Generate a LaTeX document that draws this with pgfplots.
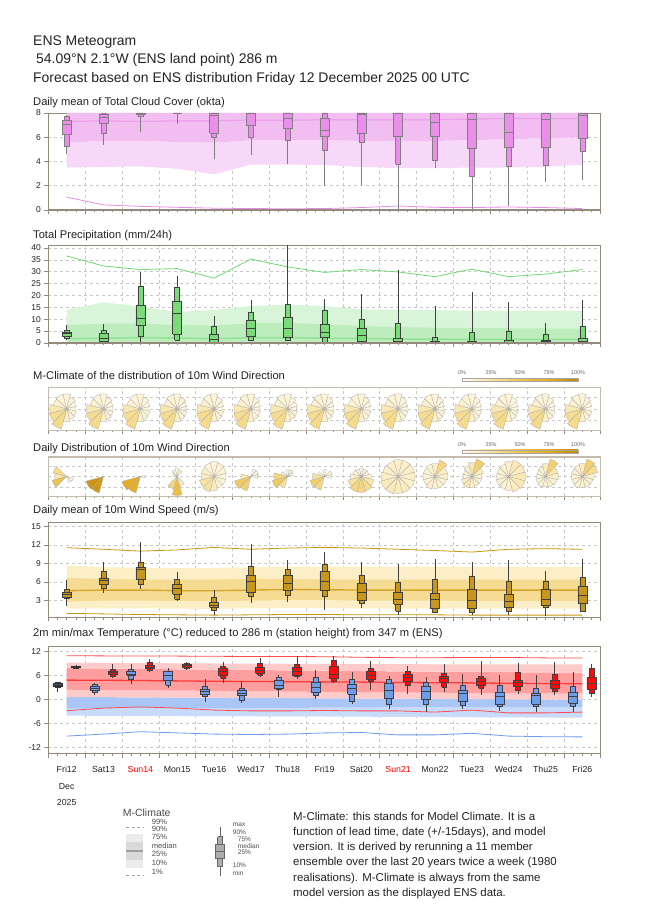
\documentclass[border=0pt]{standalone}
\usepackage{fontspec}
\setmainfont{Liberation Sans}
\usepackage{pgfplots}
\pgfplotsset{compat=1.18}
\usepackage{pgfplotstable}

\definecolor{axc}{HTML}{938A7C}
\definecolor{rosec}{HTML}{C4BCAE}
\definecolor{grd}{HTML}{C8C8C8}
\definecolor{txt}{HTML}{222222}
% cloud
\definecolor{cbox}{HTML}{E98EE9}
\definecolor{cc1}{HTML}{F8D8F8}
\definecolor{cc2}{HTML}{F2BEF2}
\definecolor{cmed}{HTML}{EBA2EB}
\definecolor{cline}{HTML}{E88CE8}
% precipitation
\definecolor{pbox}{HTML}{79DC79}
\definecolor{pc1}{HTML}{D9F5D9}
\definecolor{pc2}{HTML}{BDEDBD}
\definecolor{pmed}{HTML}{8FE28F}
\definecolor{pline}{HTML}{6FD86F}
% wind
\definecolor{wbox}{HTML}{C8961C}
\definecolor{wc1}{HTML}{FCEFC8}
\definecolor{wc2}{HTML}{F6DB92}
\definecolor{wmed}{HTML}{D6A62C}
\definecolor{wline}{HTML}{C8960E}
% temperature
\definecolor{tred}{HTML}{FF0A0A}
\definecolor{tblue}{HTML}{6D9EEB}
\definecolor{tredd}{HTML}{4B2E2E}
\definecolor{tblued}{HTML}{3B5784}
\definecolor{rc1}{HTML}{FFCACA}
\definecolor{rc2}{HTML}{FF9E9E}
\definecolor{rmed}{HTML}{FF3C3C}
\definecolor{rline}{HTML}{FF4C4C}
\definecolor{bc1}{HTML}{C9DBFA}
\definecolor{bc2}{HTML}{A9C6F6}
\definecolor{bline}{HTML}{6A9BEE}

\pgfdeclareplotmark{sector}{%
  \pgfmathsetmacro\wa{\wang-15}%
  \pgfmathsetmacro\wb{\wang+15}%
  \pgfpathmoveto{\pgfpointorigin}%
  \pgfpathlineto{\pgfpointpolar{\wa}{\wrad bp}}%
  \pgfpatharc{\wa}{\wb}{\wrad bp}%
  \pgfpathclose
  \pgfusepathqfillstroke}

\pgfplotsset{
  colormap={wr}{rgb255=(255,251,238) rgb255=(248,226,160) rgb255=(238,196,80) rgb255=(226,170,32) rgb255=(188,136,14)},
  /pgf/number format/assume math mode=true,
  mg/.style={
    anchor=south west, scale only axis, width=552.4bp,
    xmin=0, xmax=15, xtick={0,...,15}, minor x tick num=3, xticklabels={},
    tick align=outside, xtick pos=lower, ytick pos=left,
    major tick length=4bp, minor tick length=2.5bp,
    tick style={axc, line width=0.5bp},
    axis line style={axc, line width=0.7bp},
    xmajorgrids, ymajorgrids,
    grid style={grd, dash pattern=on 3bp off 3bp, line width=0.5bp},
    tick label style={font=\fontsize{8.5}{10}\selectfont, text=txt},
  },
  thickbottom/.style={after end axis/.append code={\draw[axc, line width=1.5bp] (rel axis cs:0,0) -- (rel axis cs:1,0);}},
  rosepanel/.style={mg, ymin=-1, ymax=1, ytick={-0.55,0,0.55}, yticklabels={},
    ytick style={draw=none}, axis line style={rosec, line width=0.7bp}, clip=false,
    colormap name=wr, point meta min=0, point meta max=100},
  rose/.style={scatter, only marks, mark=sector, point meta=\thisrow{f},
    visualization depends on={\thisrow{a}\as\wang},
    visualization depends on={\thisrow{r}\as\wrad},
    scatter/use mapped color={draw=black!32, fill=mapped color},
    mark options={line width=0.3bp}},
  cbar/.style={anchor=south west, scale only axis, width=116bp, height=3.4bp, hide axis,
    xmin=0, xmax=1, ymin=0, ymax=1, colormap name=wr, point meta min=0, point meta max=100,
    colorbar horizontal,
    colorbar style={at={(0,0)}, anchor=south west, width=116bp, height=3.4bp,
      xtick={0,25,50,75,100}, xticklabel pos=upper,
      xticklabel={\pgfmathprintnumber{\tick}\%},
      xticklabel style={font=\fontsize{5.5}{6}\selectfont, text=black!60},
      major tick length=0pt, axis line style={black!35, line width=0.4bp}}},
  cb/.style={fill=cbox, draw=black!50, line width=0.55bp},
  pb/.style={fill=pbox, draw=black!75, line width=0.55bp},
  wb/.style={fill=wbox, draw=black!75, line width=0.55bp},
  tb/.style={fill=tblue, draw=black!75, line width=0.55bp},
  tr/.style={fill=tred, draw=black!75, line width=0.55bp},
  tbd/.style={fill=tblued, draw=black!80, line width=0.55bp},
  trd/.style={fill=tredd, draw=black!80, line width=0.55bp},
}

% box and whiskers: x, min, p10, p25, median, p75, p90, max, style
\newcommand\bx[9]{%
  \pgfmathsetmacro\bxa{#1-0.0675}\pgfmathsetmacro\bxb{#1+0.0675}%
  \pgfmathsetmacro\bxc{#1-0.1225}\pgfmathsetmacro\bxd{#1+0.1225}%
  \addplot[#9, fill=none] coordinates {(#1,#2) (#1,#8)};
  \addplot[#9] coordinates {(\bxa,#3) (\bxb,#3) (\bxb,#7) (\bxa,#7) (\bxa,#3)};
  \addplot[#9] coordinates {(\bxc,#4) (\bxd,#4) (\bxd,#6) (\bxc,#6) (\bxc,#4)};
  \addplot[#9, fill=none] coordinates {(\bxc,#5) (\bxd,#5)};
}

\pgfplotstableread{
x p1 p50
0.5 1.06 7.30
1.5 0.42 7.35
2.5 0.30 7.30
3.5 0.22 7.35
4.5 0.15 7.35
5.5 0.12 7.40
6.5 0.10 7.40
7.5 0.12 7.45
8.5 0.20 7.45
9.5 0.33 7.45
10.5 0.22 7.45
11.5 0.20 7.50
12.5 0.25 7.55
13.5 0.20 7.55
14.5 0.12 7.55
}\cloudclim

\pgfplotstableread{
x p50 p99
0.5 1.8 36.6
1.5 2.0 32.4
2.5 2.3 30.9
3.5 2.1 31.3
4.5 1.8 27.3
5.5 2.2 35.3
6.5 2.3 32.0
7.5 2.0 29.7
8.5 1.9 30.9
9.5 1.7 29.9
10.5 1.6 27.9
11.5 1.5 31.1
12.5 1.5 27.9
13.5 1.5 29.0
14.5 1.5 30.9
}\precclim

\pgfplotstableread{
x p1 p50 p99
0.5 0.93 4.60 11.56
1.5 0.85 4.70 11.30
2.5 0.75 4.70 11.00
3.5 0.70 4.60 11.20
4.5 0.65 4.60 11.60
5.5 0.70 4.70 11.30
6.5 0.75 4.80 11.50
7.5 0.75 4.75 11.60
8.5 0.70 4.70 11.50
9.5 0.70 4.70 11.30
10.5 0.70 4.70 11.10
11.5 0.65 4.70 10.85
12.5 0.65 4.70 11.30
13.5 0.65 4.70 11.40
14.5 0.65 4.70 11.30
}\windclim

\pgfplotstableread{
x bp1 rp1 rp50 rp99
0.5 -9.10 -2.75 4.90 11.00
1.5 -8.60 -2.10 4.85 10.95
2.5 -8.00 -1.80 4.80 10.90
3.5 -8.30 -2.10 4.70 10.90
4.5 -8.60 -2.60 4.60 10.85
5.5 -8.70 -2.80 4.55 10.80
6.5 -8.60 -2.80 4.50 10.80
7.5 -8.30 -2.70 4.45 10.75
8.5 -8.20 -2.80 4.40 10.60
9.5 -8.80 -2.80 4.30 10.50
10.5 -8.80 -3.10 4.25 10.50
11.5 -8.40 -2.60 4.20 10.55
12.5 -9.10 -3.30 4.10 10.55
13.5 -9.25 -3.30 4.05 10.45
14.5 -9.30 -3.10 4.00 10.40
}\tempclim

% M-Climate wind rose (math angle of sector centre, radius in bp, frequency in %)
\pgfplotstableread{
a r f
90 15 7
60 12 6
30 10 5
0 9 5
-30 10 6
-60 11 8
-90 13 12
-120 21 32
-150 18 30
180 17 20
150 14 10
120 15 8
}\climrose

\pgfplotstableread{
x a r f
0.5 150 14 30
0.5 180 12 22
0.5 -150 15 50
0.5 -30 7 8
0.5 -60 6 6
1.5 -150 18 90
1.5 -120 17 88
2.5 -150 19 72
2.5 -120 17 70
2.5 0 5 5
3.5 -90 19 55
3.5 -120 13 35
3.5 -60 10 15
3.5 90 8 5
3.5 60 7 5
3.5 120 7 5
3.5 150 5 5
4.5 90 15 8
4.5 60 14 8
4.5 30 13 8
4.5 0 12 8
4.5 -30 12 8
4.5 -60 12 10
4.5 -90 14 15
4.5 -120 16 25
4.5 -150 15 25
4.5 180 13 15
4.5 150 13 10
4.5 120 14 8
5.5 -150 17 45
5.5 -120 15 40
5.5 180 10 20
5.5 60 8 5
5.5 30 8 5
5.5 0 7 5
6.5 -150 16 45
6.5 180 14 35
6.5 -120 12 25
6.5 150 7 8
6.5 90 7 5
6.5 60 7 5
6.5 30 6 5
7.5 -150 15 42
7.5 -120 14 35
7.5 180 12 25
7.5 150 7 8
7.5 90 7 6
7.5 30 8 8
7.5 0 7 6
8.5 90 8 5
8.5 60 8 5
8.5 30 8 5
8.5 120 8 5
8.5 150 9 5
8.5 0 10 10
8.5 -30 13 20
8.5 -60 15 30
8.5 -90 16 35
8.5 -120 16 35
8.5 -150 14 25
8.5 180 11 12
9.5 90 17 12
9.5 60 17 12
9.5 30 17 12
9.5 0 17 12
9.5 -30 17 12
9.5 -60 17 14
9.5 -90 17 15
9.5 -120 18 18
9.5 -150 18 16
9.5 180 17 14
9.5 150 16 12
9.5 120 16 12
10.5 60 17 35
10.5 30 13 12
10.5 90 13 12
10.5 0 13 12
10.5 -30 12 10
10.5 -60 12 10
10.5 -90 12 10
10.5 -120 13 12
10.5 -150 12 10
10.5 180 12 8
10.5 150 12 8
10.5 120 13 10
11.5 60 18 40
11.5 90 14 20
11.5 30 12 15
11.5 0 10 8
11.5 -30 10 8
11.5 -60 10 8
11.5 -90 11 12
11.5 -120 12 18
11.5 -150 11 15
11.5 180 9 8
11.5 150 9 8
11.5 120 11 10
12.5 90 15 12
12.5 60 17 18
12.5 30 17 15
12.5 0 17 18
12.5 -30 17 18
12.5 -60 16 15
12.5 -90 14 12
12.5 -120 13 10
12.5 -150 13 10
12.5 180 12 10
12.5 150 12 10
12.5 120 13 10
13.5 60 18 40
13.5 30 13 20
13.5 90 13 15
13.5 0 13 12
13.5 -30 12 10
13.5 -60 11 10
13.5 -90 10 8
13.5 -120 11 10
13.5 -150 10 8
13.5 180 9 8
13.5 150 9 8
13.5 120 10 8
14.5 60 18 40
14.5 30 16 30
14.5 90 13 15
14.5 0 12 10
14.5 -30 11 10
14.5 -60 11 10
14.5 -90 11 10
14.5 -120 12 10
14.5 -150 11 10
14.5 180 11 10
14.5 150 11 10
14.5 120 12 10
}\dayrose

\begin{document}
\begin{tikzpicture}
\path[use as bounding box] (0,0) rectangle (650bp,916bp);

% header and panel titles
\node[anchor=base west, inner sep=0, text=txt, font=\fontsize{14}{16}\selectfont] at (33bp,870.3bp) {ENS Meteogram};
\node[anchor=base west, inner sep=0, text=txt, font=\fontsize{14}{16}\selectfont] at (36bp,852bp) {54.09°N 2.1°W (ENS land point) 286 m};
\node[anchor=base west, inner sep=0, text=txt, font=\fontsize{14}{16}\selectfont] at (33bp,833.7bp) {Forecast based on ENS distribution Friday 12 December 2025 00 UTC};
\tikzset{ptitle/.style={anchor=base west, inner sep=0, text=txt, font=\fontsize{11.2}{13}\selectfont}}
\node[ptitle] at (33bp,810.3bp) {Daily mean of Total Cloud Cover (okta)};
\node[ptitle] at (33bp,677bp) {Total Precipitation (mm/24h)};
\node[ptitle] at (33bp,536bp) {M-Climate of the distribution of 10m Wind Direction};
\node[ptitle] at (33bp,464bp) {Daily Distribution of 10m Wind Direction};
\node[ptitle] at (33bp,402bp) {Daily mean of 10m Wind Speed (m/s)};
\node[ptitle] at (33bp,279.5bp) {2m min/max Temperature (°C) reduced to 286 m (station height) from 347 m (ENS)};

% ---------------- cloud cover
\begin{axis}[mg, thickbottom, at={(48.3bp,706bp)}, height=97bp, ymin=0, ymax=8, ytick={0,2,4,6,8}]
\addplot[fill=cc1, draw=none] coordinates {(0.5,5.55) (1.5,5.70) (2.5,5.70) (3.5,5.60) (4.5,5.55) (5.5,5.75) (6.5,5.75) (7.5,5.75) (8.5,5.70) (9.5,5.65) (10.5,5.70) (11.5,5.75) (12.5,5.85) (13.5,5.90) (14.5,6.00) (14.5,3.75) (13.5,3.55) (12.5,3.50) (11.5,3.50) (10.5,3.45) (9.5,3.45) (8.5,3.55) (7.5,3.70) (6.5,3.75) (5.5,3.75) (4.5,2.95) (3.5,3.40) (2.5,3.60) (1.5,3.55) (0.5,3.50)};
\addplot[fill=cc2, draw=none] coordinates {(0.5,8) (14.5,8) (14.5,6.00) (13.5,5.90) (12.5,5.85) (11.5,5.75) (10.5,5.70) (9.5,5.65) (8.5,5.70) (7.5,5.75) (6.5,5.75) (5.5,5.75) (4.5,5.55) (3.5,5.60) (2.5,5.70) (1.5,5.70) (0.5,5.55)};
\addplot[cmed, line width=1.3bp] table[x=x, y=p50] {\cloudclim};
\addplot[cline, line width=0.8bp] table[x=x, y=p1] {\cloudclim};
\bx{0.5}{4.58}{5.22}{6.28}{7.08}{7.44}{7.72}{7.8}{cb}
\bx{1.5}{5.36}{6.33}{7.17}{7.64}{7.92}{7.96}{8}{cb}
\bx{2.5}{6.4}{7.7}{7.9}{7.98}{8}{8}{8}{cb}
\bx{3.5}{7.1}{7.95}{8}{8}{8}{8}{8}{cb}
\bx{4.5}{4.17}{5.97}{6.33}{7.8}{8}{8}{8}{cb}
\bx{5.5}{4.5}{5.97}{7.0}{7.95}{8}{8}{8}{cb}
\bx{6.5}{3.83}{5.78}{6.72}{7.6}{8}{8}{8}{cb}
\bx{7.5}{2.0}{4.94}{6.06}{6.6}{7.56}{8}{8}{cb}
\bx{8.5}{2.08}{5.56}{6.36}{7.9}{8}{8}{8}{cb}
\bx{9.5}{0}{3.8}{6.06}{7.95}{8}{8}{8}{cb}
\bx{10.5}{3.47}{4.08}{6.06}{7.22}{8}{8}{8}{cb}
\bx{11.5}{0}{2.78}{5.06}{7.5}{8}{8}{8}{cb}
\bx{12.5}{0.33}{3.61}{5.14}{6.39}{8}{8}{8}{cb}
\bx{13.5}{2.33}{3.69}{5.14}{7.5}{8}{8}{8}{cb}
\bx{14.5}{2.5}{4.83}{5.92}{7.83}{8}{8}{8}{cb}
\end{axis}

% ---------------- precipitation
\begin{axis}[mg, thickbottom, at={(48.3bp,573bp)}, height=97.7bp, ymin=0, ymax=41.1, ytick={0,5,...,40}]
\addplot[fill=pc1, draw=none] coordinates {(0.5,13.9) (1.5,17.1) (2.5,15.3) (3.5,13.1) (4.5,13.9) (5.5,15.6) (6.5,16.1) (7.5,15.6) (8.5,14.1) (9.5,14.0) (10.5,13.8) (11.5,13.6) (12.5,13.6) (13.5,13.6) (14.5,13.6) (14.5,0) (0.5,0)};
\addplot[fill=pc2, draw=none] coordinates {(0.5,7.6) (1.5,8.1) (2.5,8.1) (3.5,7.6) (4.5,7.3) (5.5,8.3) (6.5,8.4) (7.5,7.9) (8.5,7.1) (9.5,6.7) (10.5,6.4) (11.5,6.3) (12.5,6.2) (13.5,6.1) (14.5,6.0) (14.5,0.3) (0.5,0.3)};
\addplot[pmed, line width=1.5bp] table[x=x, y=p50] {\precclim};
\addplot[pline, line width=0.8bp] table[x=x, y=p99] {\precclim};
\bx{0.5}{1.4}{2.1}{2.7}{3.9}{4.7}{5.3}{7.6}{pb}
\bx{1.5}{0}{0.4}{0.7}{1.9}{3.9}{5.3}{8.1}{pb}
\bx{2.5}{0.4}{2.9}{7.6}{10.3}{15.9}{24}{30}{pb}
\bx{3.5}{0.7}{1.3}{3.6}{12.4}{17.6}{23.6}{28.1}{pb}
\bx{4.5}{0}{0}{0}{1.4}{3.6}{6.9}{11.4}{pb}
\bx{5.5}{0.7}{1.3}{2.9}{6.1}{9.4}{13.1}{18}{pb}
\bx{6.5}{0.7}{1.1}{2.6}{6.4}{10.7}{16.3}{45}{pb}
\bx{7.5}{0}{0.4}{2.4}{4.7}{7.9}{13.7}{18.7}{pb}
\bx{8.5}{0}{0.3}{0.7}{3.3}{6.3}{9.9}{20.6}{pb}
\bx{9.5}{0}{0}{0}{0.7}{1.9}{8.1}{30.6}{pb}
\bx{10.5}{0}{0}{0}{0.3}{0.9}{2.6}{15.4}{pb}
\bx{11.5}{0}{0}{0}{0.3}{0.9}{4.6}{21.6}{pb}
\bx{12.5}{0}{0}{0}{0.2}{1.0}{4.9}{17.1}{pb}
\bx{13.5}{0}{0}{0}{0.7}{1.3}{3.6}{8.3}{pb}
\bx{14.5}{0}{0}{0}{0.7}{2.1}{6.9}{18.1}{pb}
\end{axis}

% ---------------- wind direction, M-Climate
\begin{axis}[rosepanel, at={(48.3bp,486bp)}, height=42.3bp]
\pgfplotsinvokeforeach{0,...,14}{
  \addplot[rose] table[x expr=#1+0.5, y expr=0] {\climrose};
}
\end{axis}
\begin{axis}[cbar, at={(462bp,534.3bp)}]
\addplot[draw=none] coordinates {(0,0)};
\end{axis}

% ---------------- wind direction, daily
\begin{axis}[rosepanel, at={(48.3bp,420bp)}, height=39bp,
  after end axis/.append code={\draw[rosec, line width=1.6bp] (rel axis cs:0,1) -- (rel axis cs:1,1);}]
\addplot[rose] table[x=x, y expr=0] {\dayrose};
\end{axis}
\begin{axis}[cbar, at={(462bp,462.6bp)}]
\addplot[draw=none] coordinates {(0,0)};
\end{axis}

% ---------------- wind speed
\begin{axis}[mg, thickbottom, at={(48.3bp,298.7bp)}, height=94.6bp, ymin=0.3, ymax=15.6, ytick={3,6,...,15}]
\addplot[fill=wc1, draw=none] coordinates {(0.5,8.67) (1.5,8.40) (2.5,8.30) (3.5,8.30) (4.5,8.30) (5.5,8.40) (6.5,8.50) (7.5,8.50) (8.5,8.50) (9.5,8.50) (10.5,8.50) (11.5,8.50) (12.5,8.50) (13.5,8.40) (14.5,8.40) (14.5,1.70) (13.5,1.70) (12.5,1.70) (11.5,1.70) (10.5,1.70) (9.5,1.70) (8.5,1.75) (7.5,1.75) (6.5,1.80) (5.5,1.75) (4.5,1.65) (3.5,1.70) (2.5,1.75) (1.5,1.75) (0.5,1.70)};
\addplot[fill=wc2, draw=none] coordinates {(0.5,6.65) (1.5,6.50) (2.5,6.40) (3.5,6.40) (4.5,6.40) (5.5,6.50) (6.5,6.50) (7.5,6.40) (8.5,6.40) (9.5,6.40) (10.5,6.40) (11.5,6.40) (12.5,6.40) (13.5,6.40) (14.5,6.40) (14.5,2.95) (13.5,2.95) (12.5,2.95) (11.5,2.95) (10.5,3.00) (9.5,3.00) (8.5,3.00) (7.5,3.10) (6.5,3.10) (5.5,3.00) (4.5,2.90) (3.5,2.95) (2.5,3.00) (1.5,3.00) (0.5,2.85)};
\addplot[wmed, line width=1.4bp] table[x=x, y=p50] {\windclim};
\addplot[wline, line width=0.8bp] table[x=x, y=p99] {\windclim};
\addplot[wline, line width=0.8bp] table[x=x, y=p1] {\windclim};
\bx{0.5}{2.1}{3.3}{3.6}{4.04}{4.4}{4.85}{6.4}{wb}
\bx{1.5}{4.2}{5.0}{5.56}{6.27}{6.65}{7.75}{9.27}{wb}
\bx{2.5}{4.85}{5.7}{6.5}{8.0}{8.4}{9.27}{12.5}{wb}
\bx{3.5}{2.95}{3.2}{4.04}{5.0}{5.56}{6.4}{7.6}{wb}
\bx{4.5}{0.65}{1.36}{1.9}{2.24}{2.67}{3.55}{4.75}{wb}
\bx{5.5}{2.56}{3.65}{4.36}{6.1}{7.15}{8.56}{12.1}{wb}
\bx{6.5}{2.84}{3.8}{4.6}{5.8}{7.15}{8.1}{9.5}{wb}
\bx{7.5}{1.47}{3.65}{4.75}{6.2}{7.7}{8.95}{10.85}{wb}
\bx{8.5}{1.75}{2.5}{3.1}{4.4}{5.8}{7.1}{9.2}{wb}
\bx{9.5}{0.65}{1.3}{2.4}{3.2}{4.3}{6.0}{8.85}{wb}
\bx{10.5}{0.93}{1.15}{1.8}{3.2}{4.2}{6.4}{9.65}{wb}
\bx{11.5}{0.65}{1.15}{1.7}{3.1}{4.85}{7.0}{9.2}{wb}
\bx{12.5}{0.65}{1.3}{2.0}{2.95}{4.04}{6.2}{9.5}{wb}
\bx{13.5}{0.5}{1.85}{2.24}{3.27}{4.85}{6.2}{7.85}{wb}
\bx{14.5}{1.3}{1.3}{2.56}{3.9}{5.3}{6.75}{9.8}{wb}
\end{axis}

% ---------------- temperature
\begin{axis}[mg, thickbottom, at={(48.3bp,162.3bp)}, height=107bp, ymin=-13.5, ymax=13.25, ytick={-12,-6,0,6,12},
  extra x ticks={0.5,1.5,...,14.5},
  extra x tick labels={{Fri12\\Dec\\2025},Sat13,\textcolor{red}{Sun14},Mon15,Tue16,Wed17,Thu18,Fri19,Sat20,\textcolor{red}{Sun21},Mon22,Tue23,Wed24,Thu25,Fri26},
  extra x tick style={major tick length=0pt, grid=none,
    tick label style={align=center, font=\fontsize{8.8}{16.5}\selectfont, yshift=-9bp}}]
\addplot[fill=bc1, draw=none] coordinates {(0.5,-2.25) (4.5,-2.10) (7.5,-2.00) (10.5,-1.90) (14.5,-1.80) (14.5,-4.50) (10.5,-4.35) (7.5,-4.20) (4.5,-4.10) (0.5,-4.00)};
\addplot[fill=bc2, draw=none] coordinates {(0.5,0.67) (4.5,0.50) (7.5,0.35) (10.5,0.20) (14.5,0.00) (14.5,-1.80) (10.5,-1.90) (7.5,-2.00) (4.5,-2.10) (0.5,-2.25)};
\addplot[fill=rc1, draw=none] coordinates {(0.5,2.50) (4.5,2.20) (7.5,1.95) (10.5,1.75) (14.5,1.50) (14.5,0.00) (10.5,0.20) (7.5,0.35) (4.5,0.50) (0.5,0.67)};
\addplot[fill=rc2, draw=none] coordinates {(0.5,7.90) (4.5,7.50) (7.5,7.25) (10.5,7.00) (14.5,6.75) (14.5,1.50) (10.5,1.75) (7.5,1.95) (4.5,2.20) (0.5,2.50)};
\addplot[fill=rc1, draw=none] coordinates {(0.5,9.25) (4.5,9.05) (7.5,8.95) (10.5,8.85) (14.5,8.80) (14.5,6.75) (10.5,7.00) (7.5,7.25) (4.5,7.50) (0.5,7.90)};
\addplot[rmed, line width=1.3bp] table[x=x, y=rp50] {\tempclim};
\addplot[rline, line width=0.8bp] table[x=x, y=rp99] {\tempclim};
\addplot[rline, line width=0.8bp] table[x=x, y=rp1] {\tempclim};
\addplot[bline, line width=0.8bp] table[x=x, y=bp1] {\tempclim};
% minimum temperature
\bx{0.25}{1.8}{3.0}{3.3}{3.7}{4.1}{4.3}{4.4}{tbd}
\bx{1.25}{1.1}{1.9}{2.3}{2.9}{3.4}{3.75}{4.17}{tb}
\bx{2.25}{4.0}{5.0}{6.1}{6.4}{7.0}{7.5}{9.0}{tb}
\bx{3.25}{2.83}{3.67}{4.9}{6.0}{7.0}{7.2}{8.0}{tb}
\bx{4.25}{-0.67}{0.75}{1.4}{2.0}{2.6}{3.25}{5.1}{tb}
\bx{5.25}{-0.75}{-0.25}{1.0}{1.6}{2.25}{2.83}{4.67}{tb}
\bx{6.25}{0.75}{2.6}{2.83}{3.67}{4.9}{5.5}{6.2}{tb}
\bx{7.25}{0.17}{1.17}{1.83}{3.17}{4.33}{5.6}{7.4}{tb}
\bx{8.25}{-1.1}{-0.5}{1.4}{2.83}{3.83}{5.1}{7.0}{tb}
\bx{9.25}{-2.4}{-1.17}{0.33}{2.4}{4.08}{5.17}{6.0}{tb}
\bx{10.25}{-3.17}{-1.1}{0.17}{2.17}{3.4}{4.25}{5.6}{tb}
\bx{11.25}{-2.4}{-1.5}{-0.5}{1.6}{2.25}{3.67}{6.33}{tb}
\bx{12.25}{-2.83}{-1.75}{-1.1}{0.75}{1.83}{3.67}{6.17}{tb}
\bx{13.25}{-3.0}{-1.75}{-1.17}{1.17}{1.6}{2.83}{6.17}{tb}
\bx{14.25}{-3.0}{-1.75}{-0.9}{0.75}{1.83}{3.4}{7.0}{tb}
% maximum temperature
\bx{0.75}{7.75}{7.9}{8.0}{8.15}{8.35}{8.4}{8.6}{trd}
\bx{1.75}{5.4}{5.9}{6.3}{6.75}{7.2}{7.6}{8.8}{tr}
\bx{2.75}{7.0}{7.25}{7.75}{8.17}{8.67}{9.25}{10.2}{tr}
\bx{3.75}{7.5}{7.8}{8.1}{8.5}{8.8}{9.0}{9.5}{tr}
\bx{4.75}{4.25}{5.3}{6.0}{7.0}{7.8}{8.25}{9.3}{tr}
\bx{5.75}{5.6}{6.2}{6.6}{7.4}{8.1}{9.1}{10.5}{tr}
\bx{6.75}{5.1}{5.75}{6.2}{7.0}{8.0}{8.9}{10.9}{tr}
\bx{7.75}{4.1}{4.67}{5.3}{6.33}{8.25}{9.9}{10.9}{tr}
\bx{8.75}{2.4}{4.5}{5.17}{6.0}{7.0}{7.8}{9.67}{tr}
\bx{9.75}{1.4}{3.67}{4.5}{5.6}{6.4}{7.0}{8.4}{tr}
\bx{10.75}{2.0}{3.17}{4.33}{5.33}{5.9}{6.6}{8.8}{tr}
\bx{11.75}{1.17}{2.83}{3.5}{4.67}{5.33}{5.75}{9.67}{tr}
\bx{12.75}{1.4}{2.4}{3.25}{4.25}{4.9}{6.83}{9.1}{tr}
\bx{13.75}{1.17}{2.0}{2.83}{3.83}{4.9}{6.33}{9.5}{tr}
\bx{14.75}{0.75}{1.6}{2.6}{4.1}{5.5}{7.83}{8.83}{tr}
\end{axis}

% ---------------- legends (page pixel coordinates)
\begin{axis}[at={(0bp,0bp)}, anchor=south west, scale only axis, width=650bp, height=916bp,
  xmin=0, xmax=650, ymin=0, ymax=916, y dir=reverse, hide axis, clip=false]
% M-Climate key
\addplot[fill=black!8, draw=none] coordinates {(126,834) (143.3,834) (143.3,868) (126,868)};
\addplot[fill=black!15, draw=none] coordinates {(126,842) (143.3,842) (143.3,860) (126,860)};
\addplot[black!38, line width=1.4bp] coordinates {(126,851) (143.3,851)};
\addplot[black!35, dash pattern=on 3bp off 2.5bp, line width=0.6bp] coordinates {(126,827.7) (143.3,827.7)};
\addplot[black!35, dash pattern=on 3bp off 2.5bp, line width=0.6bp] coordinates {(126,875.7) (143.3,875.7)};
\node[anchor=west, inner sep=0, text=black!70, font=\fontsize{10.5}{11}\selectfont] at (axis cs:122.7,812.3) {M-Climate};
\tikzset{mk/.style={anchor=west, inner sep=0, text=black!70, font=\fontsize{7.6}{8}\selectfont}}
\node[mk] at (axis cs:151.7,821.5) {99\%};
\node[mk] at (axis cs:151.7,829.3) {90\%};
\node[mk] at (axis cs:151.7,837.1) {75\%};
\node[mk] at (axis cs:151.7,845.6) {median};
\node[mk] at (axis cs:151.7,854.3) {25\%};
\node[mk] at (axis cs:151.7,863) {10\%};
\node[mk] at (axis cs:151.7,871.5) {1\%};
% box key
\addplot[black!60, line width=0.55bp] coordinates {(220,826.7) (220,875.7)};
\addplot[fill=black!32, draw=black!60, line width=0.55bp] coordinates {(217.75,836.7) (222.25,836.7) (222.25,866.7) (217.75,866.7) (217.75,836.7)};
\addplot[fill=black!32, draw=black!60, line width=0.55bp] coordinates {(215.75,844.3) (224.25,844.3) (224.25,858.3) (215.75,858.3) (215.75,844.3)};
\addplot[black!60, line width=0.55bp] coordinates {(215.75,851) (224.25,851)};
\tikzset{bk/.style={anchor=west, inner sep=0, text=black!70, font=\fontsize{6.6}{7}\selectfont}}
\node[bk] at (axis cs:232.7,825) {max};
\node[bk] at (axis cs:232.7,832.3) {90\%};
\node[bk] at (axis cs:237.7,839) {75\%};
\node[bk] at (axis cs:237.7,845.7) {median};
\node[bk] at (axis cs:237.7,852.5) {25\%};
\node[bk] at (axis cs:232.7,865) {10\%};
\node[bk] at (axis cs:232.7,873.3) {min};
\end{axis}

% explanation text
\tikzset{expl/.style={anchor=base west, inner sep=0, text=txt, font=\fontsize{11.5}{13}\selectfont}}
\node[expl] at (293bp,95bp) {M-Climate: this stands for Model Climate. It is a};
\node[expl] at (293bp,80bp) {function of lead time, date (+/-15days), and model};
\node[expl] at (293bp,65bp) {version. It is derived by rerunning a 11 member};
\node[expl] at (293bp,50bp) {ensemble over the last 20 years twice a week (1980};
\node[expl] at (293bp,35bp) {realisations). M-Climate is always from the same};
\node[expl] at (293bp,20bp) {model version as the displayed ENS data.};
\end{tikzpicture}
\end{document}
